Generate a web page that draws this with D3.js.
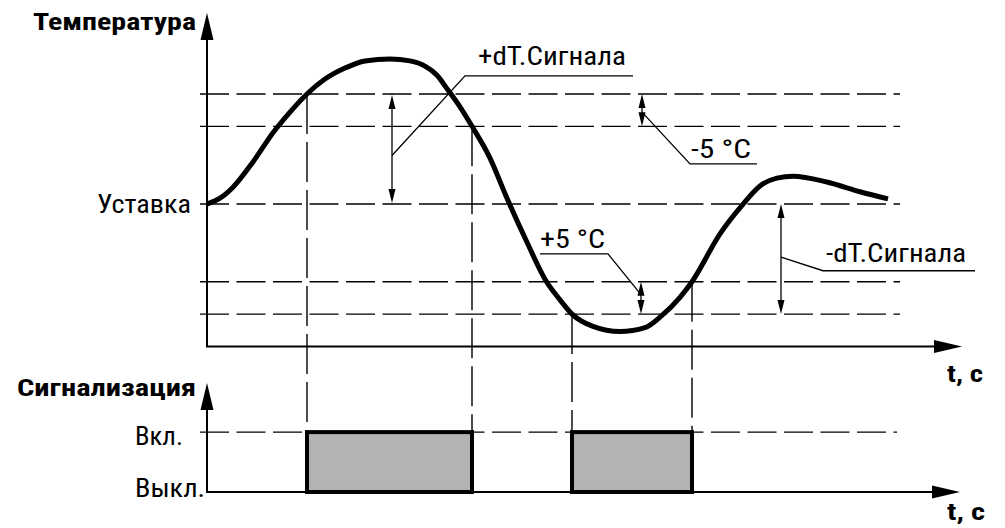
<!DOCTYPE html>
<html>
<head>
<meta charset="utf-8">
<script src="https://cdn.jsdelivr.net/npm/d3@7"></script>
<style>
  html, body { margin: 0; padding: 0; background: #fff; }
  svg { display: block; }
  text { font-family: "Liberation Sans Narrow", "Roboto Condensed", "Liberation Sans", Arial, sans-serif; fill: #000; }
</style>
</head>
<body>
<svg id="chart" width="1005" height="528"></svg>
<script>
// Temperature trace: time (s) and temperature offset from the setpoint (°C)
const timeValues = [0, 2.6, 5.2, 9.2, 13.2, 16.6, 20, 23.6, 27.6, 31.6, 36.6, 40.6, 43.6, 46, 48.2, 50.6, 53, 56.6, 60, 64, 67.6, 70.6, 73, 77.2, 82.6, 87.6, 91, 94.6, 97, 102.6, 107, 110.6, 114, 117.2, 124, 130.6, 136.2];
const tempValues = [0, 0.9, 2.6, 6.5, 11, 14.2, 17, 19.3, 21, 22.1, 22.4, 22.1, 21.3, 19.9, 17.6, 15, 12, 7.1, 0.9, -5.9, -11.6, -14.8, -17, -18.9, -19.7, -19.1, -17.2, -14.4, -12, -4.6, -0.2, 2.8, 4, 4.3, 3.4, 1.9, 0.8];

// Alarm thresholds
const setpoint = 0;
const dTSignal = 17;      // +/- dT.Сигнала
const hysteresis = 5;    // 5 °C
const levelValues = [setpoint + dTSignal, setpoint + dTSignal - hysteresis, setpoint, setpoint - dTSignal + hysteresis, setpoint - dTSignal];

// Alarm output intervals: [on, off] times and the threshold crossed at each switch
const alarmOn  = [20, 73];
const alarmOff = [53, 97];
const switchTimes  = [20, 53, 73, 97];
const switchLevels = [17, 12, -17, -12];

// Axis texts
const tempAxisTitle = "Температура";
const signalAxisTitle = "Сигнализация";
const timeAxisTitle = "t, c";
const setpointLabel = "Уставка";
const signalStateLabels = ["Выкл.", "Вкл."];

const svg = d3.select("#chart");

const x = d3.scaleLinear().domain([0, 151]).range([207, 962]);
const yT = d3.scaleLinear().domain([-22, 29.5]).range([346.5, 13]);
const ySig = d3.scaleLinear().domain([0, 1.82]).range([492, 383]);

const tMax = 151, gridEndT = 138.6, tickOut = 7;
const axisW = 2;
const fsLabel = 25, fsTitle = 24;

// ---------- helpers ----------
function arrowHead(g, tipX, tipY, dir, len, half) {
  let pts;
  if (dir === "up") pts = [[tipX, tipY], [tipX - half, tipY + len], [tipX + half, tipY + len]];
  else if (dir === "down") pts = [[tipX, tipY], [tipX - half, tipY - len], [tipX + half, tipY - len]];
  else pts = [[tipX, tipY], [tipX - len, tipY - half], [tipX - len, tipY + half]];
  g.append("path").attr("d", d3.line()(pts) + "Z").attr("fill", "#000");
}

function doubleArrow(g, px, py1, py2) {
  g.append("line").attr("x1", px).attr("x2", px).attr("y1", py1 + 6).attr("y2", py2 - 6)
    .attr("stroke", "#000").attr("stroke-width", 1.3);
  arrowHead(g, px, py1, "up", 14, 3.5);
  arrowHead(g, px, py2, "down", 14, 3.5);
}

function label(g, txt, px, py, len, size, weight, anchor) {
  return g.append("text")
    .attr("x", px).attr("y", py)
    .attr("font-size", size)
    .attr("font-weight", weight || "normal")
    .attr("text-anchor", anchor || "start")
    .attr("textLength", len)
    .attr("lengthAdjust", "spacingAndGlyphs")
    .text(txt);
}

const grid = svg.append("g");
const marks = svg.append("g");
const notes = svg.append("g");
const axes = svg.append("g");

// ---------- dashed reference lines ----------
grid.selectAll("line.level").data(levelValues).join("line")
  .attr("class", "level")
  .attr("x1", x(0) - tickOut).attr("x2", x(gridEndT))
  .attr("y1", d => yT(d)).attr("y2", d => yT(d))
  .attr("stroke", "#000").attr("stroke-width", 1.4)
  .attr("stroke-dasharray", "29,7.5");

grid.append("line")
  .attr("x1", x(0) - tickOut).attr("x2", x(gridEndT) - 3)
  .attr("y1", ySig(1)).attr("y2", ySig(1))
  .attr("stroke", "#000").attr("stroke-width", 1.4)
  .attr("stroke-dasharray", "29,7.5");

grid.selectAll("line.switch").data(switchTimes).join("line")
  .attr("class", "switch")
  .attr("x1", d => x(d)).attr("x2", d => x(d))
  .attr("y1", (d, i) => yT(switchLevels[i])).attr("y2", ySig(1))
  .attr("stroke", "#000").attr("stroke-width", 1.4)
  .attr("stroke-dasharray", "40,8");

// ---------- temperature curve ----------
const curvePts = timeValues.map((t, i) => [t, tempValues[i]]);
marks.append("path")
  .datum(curvePts)
  .attr("d", d3.line().x(d => x(d[0])).y(d => yT(d[1])).curve(d3.curveMonotoneX))
  .attr("fill", "none").attr("stroke", "#000").attr("stroke-width", 5)
  .attr("stroke-linecap", "butt").attr("stroke-linejoin", "round");

// ---------- alarm output pulses ----------
marks.selectAll("rect.pulse").data(alarmOn).join("rect")
  .attr("class", "pulse")
  .attr("x", d => x(d))
  .attr("y", ySig(1))
  .attr("width", (d, i) => x(alarmOff[i]) - x(d))
  .attr("height", ySig(0) - ySig(1))
  .attr("fill", "#b3b3b3").attr("stroke", "#000").attr("stroke-width", 4);

// ---------- annotations ----------
// +dT.Сигнала
doubleArrow(notes, x(37), yT(17) + 1, yT(0) - 1);
notes.append("path")
  .attr("d", d3.line()([[x(85.2), yT(19.8)], [x(51.6), yT(19.8)], [x(37), yT(7.5)]]))
  .attr("fill", "none").attr("stroke", "#000").attr("stroke-width", 1.3);
label(notes, "+dT.Сигнала", x(54.2), yT(21.4), 148, fsLabel);

// -5 °C
doubleArrow(notes, x(87), yT(17), yT(12));
notes.append("path")
  .attr("d", d3.line()([[x(87), yT(14.2)], [x(96.6), yT(6.2)], [x(110), yT(6.2)]]))
  .attr("fill", "none").attr("stroke", "#000").attr("stroke-width", 1.3);
label(notes, "-5 °C", x(96.8), yT(7.1), 60, fsLabel);

// +5 °C
doubleArrow(notes, x(86.8), yT(-12), yT(-17));
notes.append("path")
  .attr("d", d3.line()([[x(66.6), yT(-7.7)], [x(80.2), yT(-7.7)], [x(86.8), yT(-14)]]))
  .attr("fill", "none").attr("stroke", "#000").attr("stroke-width", 1.3);
label(notes, "+5 °C", x(66.6), yT(-6.8), 65, fsLabel);

// -dT.Сигнала
doubleArrow(notes, x(114.8), yT(0), yT(-17));
notes.append("path")
  .attr("d", d3.line()([[x(114.8), yT(-8.2)], [x(123.2), yT(-10.3)], [x(153.6), yT(-10.3)]]))
  .attr("fill", "none").attr("stroke", "#000").attr("stroke-width", 1.3);
label(notes, "-dT.Сигнала", x(123.8), yT(-8.9), 140, fsLabel);

// ---------- axes ----------
// temperature chart
axes.append("line").attr("x1", x(0)).attr("x2", x(0)).attr("y1", yT(-22)).attr("y2", yT(29.5) + 20)
  .attr("stroke", "#000").attr("stroke-width", axisW);
arrowHead(axes, x(0), yT(29.5), "up", 27, 6.5);
axes.append("line").attr("x1", x(0) - 1).attr("x2", x(tMax) - 20).attr("y1", yT(-22)).attr("y2", yT(-22))
  .attr("stroke", "#000").attr("stroke-width", axisW);
arrowHead(axes, x(tMax), yT(-22), "right", 28, 6.5);

label(axes, tempAxisTitle, 33, 30, 163, fsTitle, "bold");
label(axes, setpointLabel, x(0) - 16, yT(setpoint) + 8.5, 94, fsLabel, "normal", "end");
label(axes, timeAxisTitle, 947, 382, 36, fsTitle, "bold");

// signal chart
axes.append("line").attr("x1", x(0)).attr("x2", x(0)).attr("y1", ySig(0) + 1).attr("y2", ySig(1.82) + 20)
  .attr("stroke", "#000").attr("stroke-width", axisW);
arrowHead(axes, x(0), ySig(1.82), "up", 27, 6.5);
axes.append("line").attr("x1", x(0) - 1).attr("x2", x(tMax) - 20).attr("y1", ySig(0)).attr("y2", ySig(0))
  .attr("stroke", "#000").attr("stroke-width", axisW);
arrowHead(axes, x(tMax) - 2, ySig(0), "right", 28, 6.5);

label(axes, signalAxisTitle, 17, 396, 179, fsTitle, "bold");
label(axes, signalStateLabels[1], 135, ySig(1) + 13, 48, fsLabel);
label(axes, signalStateLabels[0], 135, ySig(0) + 5, 70, fsLabel);
label(axes, timeAxisTitle, 947, 520, 38, fsTitle, "bold");
</script>
</body>
</html>
